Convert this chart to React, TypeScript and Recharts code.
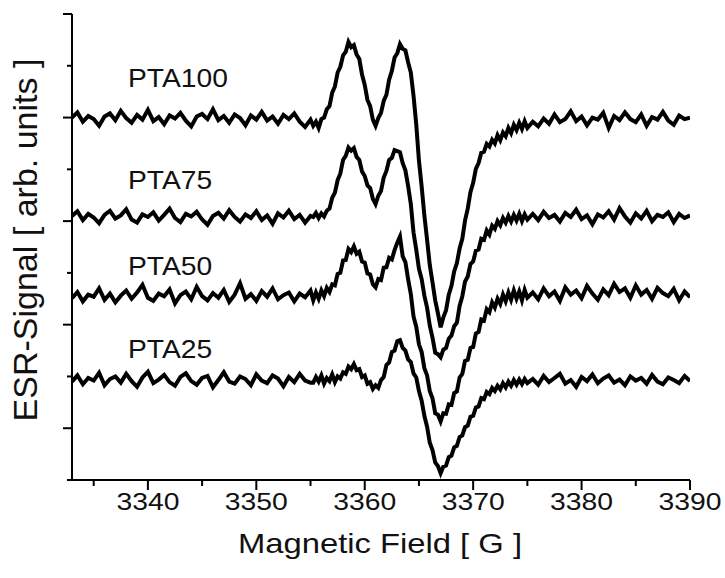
import { LineChart, Line, XAxis, YAxis } from "recharts";

// magnetic field sweep [G]: 0.5 G on the wings, 0.25 G across the resonance
const FIELD = [
  3333, 3333.5, 3334, 3334.5, 3335, 3335.5, 3336, 3336.5, 3337, 3337.5,
  3338, 3338.5, 3339, 3339.5, 3340, 3340.5, 3341, 3341.5, 3342, 3342.5,
  3343, 3343.5, 3344, 3344.5, 3345, 3345.5, 3346, 3346.5, 3347, 3347.5,
  3348, 3348.5, 3349, 3349.5, 3350, 3350.5, 3351, 3351.5, 3352, 3352.5,
  3353, 3353.5, 3354, 3354.5, 3355,
  3355.25, 3355.5, 3355.75, 3356, 3356.25, 3356.5, 3356.75, 3357, 3357.25, 3357.5,
  3357.75, 3358, 3358.25, 3358.5, 3358.75, 3359, 3359.25, 3359.5, 3359.75, 3360,
  3360.25, 3360.5, 3360.75, 3361, 3361.25, 3361.5, 3361.75, 3362, 3362.25, 3362.5,
  3362.75, 3363, 3363.25, 3363.5, 3363.75, 3364, 3364.25, 3364.5, 3364.75, 3365,
  3365.25, 3365.5, 3365.75, 3366, 3366.25, 3366.5, 3366.75, 3367, 3367.25, 3367.5,
  3367.75, 3368, 3368.25, 3368.5, 3368.75, 3369, 3369.25, 3369.5, 3369.75, 3370,
  3370.25, 3370.5, 3370.75, 3371, 3371.25, 3371.5, 3371.75, 3372, 3372.25, 3372.5,
  3372.75, 3373, 3373.25, 3373.5, 3373.75, 3374, 3374.25, 3374.5, 3374.75, 3375,
  3375.5, 3376, 3376.5, 3377, 3377.5, 3378, 3378.5, 3379, 3379.5, 3380,
  3380.5, 3381, 3381.5, 3382, 3382.5, 3383, 3383.5, 3384, 3384.5, 3385,
  3385.5, 3386, 3386.5, 3387, 3387.5, 3388, 3388.5, 3389, 3389.5, 3390,
];

// ESR signal, arb. units (traces offset vertically)
const PTA100 = [
  7.0, 7.1, 6.92, 7.03, 6.97, 6.84, 7.02, 7.08, 6.95, 7.13,
  6.99, 6.9, 7.05, 6.96, 7.15, 6.93, 7.01, 6.87, 7.04, 6.98,
  7.09, 6.94, 6.83, 7.02, 7.07, 6.97, 7.16, 6.95, 7.03, 6.9,
  7.06, 6.99, 6.85, 7.04, 6.96, 7.11, 6.94, 7.02, 6.88, 7.05,
  6.97, 7.08, 6.92, 6.82, 6.96,
  6.84, 6.92, 6.8, 6.97, 7.0, 7.16, 7.22, 7.48, 7.6, 7.87,
  7.98, 8.2, 8.27, 8.46, 8.36, 8.4, 8.22, 8.13, 7.83, 7.63,
  7.34, 7.22, 6.96, 6.84, 6.99, 7.09, 7.32, 7.44, 7.73, 7.9,
  8.16, 8.24, 8.42, 8.33, 8.3, 8.07, 7.87, 7.42, 6.87, 6.17,
  5.67, 5.11, 4.64, 4.15, 3.82, 3.47, 3.22, 2.95, 3.14, 3.28,
  3.58, 3.75, 4.03, 4.19, 4.47, 4.66, 5.01, 5.24, 5.56, 5.74,
  6.01, 6.12, 6.32, 6.34, 6.49, 6.44, 6.57, 6.5, 6.66, 6.56,
  6.71, 6.64, 6.8, 6.7, 6.86, 6.76, 6.9, 6.78, 6.93, 6.8,
  6.92, 6.83, 6.98, 6.88, 7.06, 6.91, 6.97, 7.12, 6.93, 7.02,
  6.85, 7.0, 6.96, 7.09, 6.8, 7.03, 6.95, 7.1, 6.97, 6.91,
  7.06, 6.84, 7.01, 6.96, 7.11, 6.94, 6.86, 7.04, 6.97, 7.0,
];

const PTA75 = [
  5.1, 5.19, 5.02, 5.14, 5.07, 4.96, 5.12, 5.2, 5.05, 5.11,
  5.23, 5.03, 4.97, 5.13, 5.08, 5.17, 5.01, 5.12, 5.24, 5.06,
  4.98, 5.14, 5.09, 5.18, 5.03, 4.93, 5.1, 5.16, 5.05, 5.21,
  5.08, 4.99, 5.13, 5.06, 5.19, 5.02, 5.11, 4.95, 5.15, 5.07,
  5.2, 5.04, 5.12, 4.97, 5.1,
  5.08, 5.16, 5.06, 5.15, 5.09, 5.2, 5.24, 5.45, 5.55, 5.79,
  5.92, 6.18, 6.26, 6.42, 6.36, 6.41, 6.24, 6.18, 5.96, 5.87,
  5.69, 5.64, 5.43, 5.33, 5.49, 5.58, 5.84, 5.97, 6.18, 6.22,
  6.37, 6.35, 6.33, 6.12, 5.98, 5.68, 5.33, 4.78, 4.45, 4.08,
  3.88, 3.56, 3.33, 2.98, 2.75, 2.46, 2.43, 2.37, 2.52, 2.55,
  2.73, 2.79, 2.97, 3.04, 3.36, 3.55, 3.83, 3.93, 4.17, 4.22,
  4.43, 4.45, 4.66, 4.64, 4.82, 4.74, 4.91, 4.85, 5.0, 4.92,
  5.06, 4.97, 5.1, 4.99, 5.12, 5.01, 5.14, 5.0, 5.13, 5.03,
  5.14, 5.02, 5.18, 5.06, 5.12, 4.99, 5.16, 5.08, 5.22, 5.04,
  5.11, 4.94, 5.13, 5.07, 5.19, 5.03, 5.25, 5.09, 4.97, 5.15,
  5.05, 5.2, 5.0, 5.12, 5.08, 5.17, 4.98, 5.14, 5.06, 5.11,
];

const PTA50 = [
  3.51, 3.63, 3.45, 3.58, 3.54, 3.7, 3.48, 3.6, 3.43, 3.56,
  3.66, 3.5, 3.62, 3.77, 3.52, 3.46, 3.6, 3.55, 3.68, 3.41,
  3.57, 3.64, 3.49, 3.73, 3.55, 3.47, 3.61, 3.52, 3.67, 3.44,
  3.58, 3.8, 3.5, 3.59, 3.46, 3.65, 3.54, 3.7, 3.49, 3.57,
  3.62, 3.45, 3.6, 3.53, 3.66,
  3.47, 3.62, 3.5, 3.66, 3.55, 3.71, 3.63, 3.78, 3.76, 3.98,
  4.0, 4.24, 4.25, 4.46, 4.4, 4.51, 4.37, 4.41, 4.22, 4.2,
  3.99, 3.97, 3.78, 3.72, 3.88, 3.86, 4.1, 4.11, 4.29, 4.26,
  4.44, 4.58, 4.7, 4.32, 4.21, 3.88, 3.59, 3.16, 2.96, 2.62,
  2.47, 2.16, 2.02, 1.72, 1.58, 1.29, 1.26, 1.13, 1.29, 1.28,
  1.46, 1.45, 1.68, 1.71, 1.98, 2.05, 2.3, 2.32, 2.55, 2.57,
  2.83, 2.86, 3.1, 3.08, 3.3, 3.24, 3.43, 3.33, 3.5, 3.4,
  3.58, 3.45, 3.62, 3.48, 3.66, 3.5, 3.64, 3.47, 3.67, 3.52,
  3.62, 3.49, 3.7, 3.55, 3.64, 3.46, 3.72, 3.58, 3.66, 3.51,
  3.75, 3.6, 3.48, 3.68, 3.57, 3.79, 3.63, 3.7, 3.52, 3.76,
  3.58, 3.67, 3.5, 3.71, 3.61, 3.55, 3.69, 3.47, 3.64, 3.53,
];

const PTA25 = [
  1.9, 2.02, 1.85, 1.97, 1.92, 2.07, 1.83, 1.95, 2.0, 1.88,
  2.05, 1.91, 1.8, 1.98, 2.09, 1.87, 1.94, 2.03, 1.89, 1.82,
  1.99, 2.06, 1.91, 1.84, 1.97, 2.01, 1.79, 1.93, 2.08, 1.9,
  1.86, 2.0, 1.95, 1.83, 2.04, 1.92, 1.87, 2.02, 1.96, 1.81,
  1.99, 1.89, 2.05, 1.92, 1.88,
  1.88, 1.99, 1.9, 2.02, 1.86, 1.97, 1.91, 2.04, 1.89, 2.0,
  1.96, 2.08, 2.05, 2.19, 2.14, 2.24, 2.12, 2.14, 1.99, 2.02,
  1.86, 1.89, 1.76, 1.83, 1.78, 1.93, 1.99, 2.22, 2.27, 2.47,
  2.5, 2.68, 2.7, 2.55, 2.5, 2.33, 2.28, 2.06, 1.98, 1.72,
  1.53, 1.24, 1.03, 0.72, 0.58, 0.34, 0.27, 0.13, 0.26, 0.28,
  0.44, 0.47, 0.63, 0.66, 0.83, 0.86, 1.02, 1.05, 1.22, 1.24,
  1.4, 1.42, 1.58, 1.56, 1.7, 1.66, 1.78, 1.72, 1.82, 1.75,
  1.87, 1.79, 1.9, 1.82, 1.93, 1.84, 1.94, 1.85, 1.95, 1.87,
  1.95, 1.84, 2.01, 1.89, 1.97, 2.05, 1.86, 1.93, 1.8, 1.99,
  1.91, 2.04, 1.87, 1.96, 2.02, 1.88, 1.94, 1.83, 2.0, 1.92,
  1.97, 1.86, 2.03, 1.9, 1.85, 1.98, 1.93, 1.87, 2.01, 1.91,
];

const X_TICKS = [3335, 3340, 3345, 3350, 3355, 3360, 3365, 3370, 3375, 3380, 3385, 3390];
const Y_TICKS = [0, 1, 2, 3, 4, 5, 6, 7, 8, 9];

const LABELS = [
  { name: "PTA100", y: 87 },
  { name: "PTA75", y: 189 },
  { name: "PTA50", y: 275 },
  { name: "PTA25", y: 358 },
];

const FONT = "'Liberation Sans', Arial, Helvetica, sans-serif";

const data = FIELD.map((field, i) => ({
  field,
  pta100: PTA100[i],
  pta75: PTA75[i],
  pta50: PTA50[i],
  pta25: PTA25[i],
}));

function XTick({ x, y, payload }: any) {
  const major = payload.value % 10 === 0;
  return (
    <g>
      <line x1={x} x2={x} y1={y} y2={y + (major ? 10 : 6)} stroke="#000" strokeWidth={2} />
      {major && (
        <text
          transform={`translate(${x},${y + 30}) scale(1.18,1)`}
          textAnchor="middle"
          fontSize={24}
          fontFamily={FONT}
          fill="#111"
        >
          {payload.value}
        </text>
      )}
    </g>
  );
}

function YTick({ x, y, payload }: any) {
  const major = payload.value % 2 === 1;
  return <line x1={x - (major ? 9 : 5)} x2={x} y1={y} y2={y} stroke="#000" strokeWidth={2} />;
}

export default function App() {
  return (
    <div style={{ position: "relative", width: 725, height: 578 }}>
      <style>{"body{margin:0;background:#fff}"}</style>
      <LineChart
        width={725}
        height={578}
        data={data}
        margin={{ top: 14, right: 35, bottom: 0, left: 0 }}
      >
        <XAxis
          type="number"
          dataKey="field"
          domain={[3333, 3390]}
          ticks={X_TICKS}
          allowDataOverflow
          height={98}
          tickSize={0}
          tickMargin={0}
          tickLine={false}
          axisLine={{ stroke: "#000", strokeWidth: 2 }}
          tick={(p: any) => <XTick {...p} />}
          interval={0}
        />
        <YAxis
          type="number"
          domain={[0, 9]}
          ticks={Y_TICKS}
          width={72}
          tickSize={0}
          tickMargin={0}
          tickLine={false}
          axisLine={{ stroke: "#000", strokeWidth: 2 }}
          tick={(p: any) => <YTick {...p} />}
          interval={0}
        />
        {["pta100", "pta75", "pta50", "pta25"].map((k) => (
          <Line
            key={k}
            type="linear"
            dataKey={k}
            stroke="#000"
            strokeWidth={4}
            dot={false}
            isAnimationActive={false}
          />
        ))}
      </LineChart>
      <svg
        width={725}
        height={578}
        style={{ position: "absolute", left: 0, top: 0, pointerEvents: "none" }}
        fontFamily={FONT}
      >
        {LABELS.map((l) => (
          <text key={l.name} transform={`translate(128,${l.y}) scale(1.13,1)`} fontSize={25} fill="#111">
            {l.name}
          </text>
        ))}
        <text transform="translate(380,553) scale(1.17,1)" textAnchor="middle" fontSize={28} fill="#111">
          Magnetic Field [ G ]
        </text>
        <text transform="translate(37,240) rotate(-90)" textAnchor="middle" fontSize={34} fill="#111">
          ESR-Signal [ arb. units ]
        </text>
      </svg>
    </div>
  );
}
